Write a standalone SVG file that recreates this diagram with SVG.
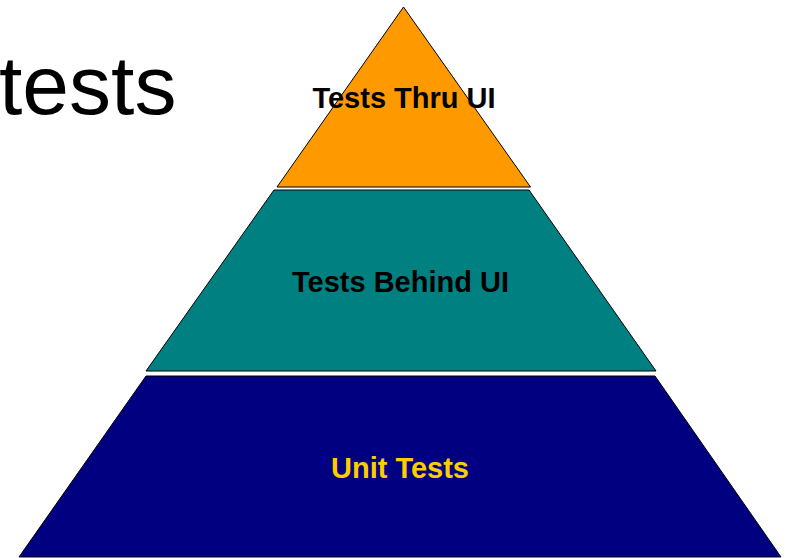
<svg xmlns="http://www.w3.org/2000/svg" width="785" height="558" viewBox="0 0 785 558">
<style>
.layer{stroke:#000;stroke-width:1;stroke-linejoin:miter}
.lbl{font-family:"Liberation Sans",Arial,sans-serif;font-weight:bold;font-size:29px;text-anchor:middle}
.title{font-family:"Liberation Sans",Arial,sans-serif;font-size:84px;fill:#000}
</style>
<rect width="785" height="558" fill="#fff"/>
<text class="title" x="-1" y="114">tests</text>
<g id="unit-tests">
<polygon class="layer" points="146,376 655,376 781,557 19,557" fill="#000080"/>
<text class="lbl" x="400" y="478" fill="#FFCC00">Unit Tests</text>
</g>
<g id="tests-behind-ui">
<polygon class="layer" points="274,190 529,190 656,371 146,371" fill="#008080"/>
<text class="lbl" x="400.5" y="292" fill="#000">Tests Behind UI</text>
</g>
<g id="tests-thru-ui">
<polygon class="layer" points="403.5,7 530.5,187 277,187" fill="#FF9900"/>
<text class="lbl" x="404" y="108" fill="#000">Tests Thru UI</text>
</g>
<g id="connectors"></g>
</svg>
